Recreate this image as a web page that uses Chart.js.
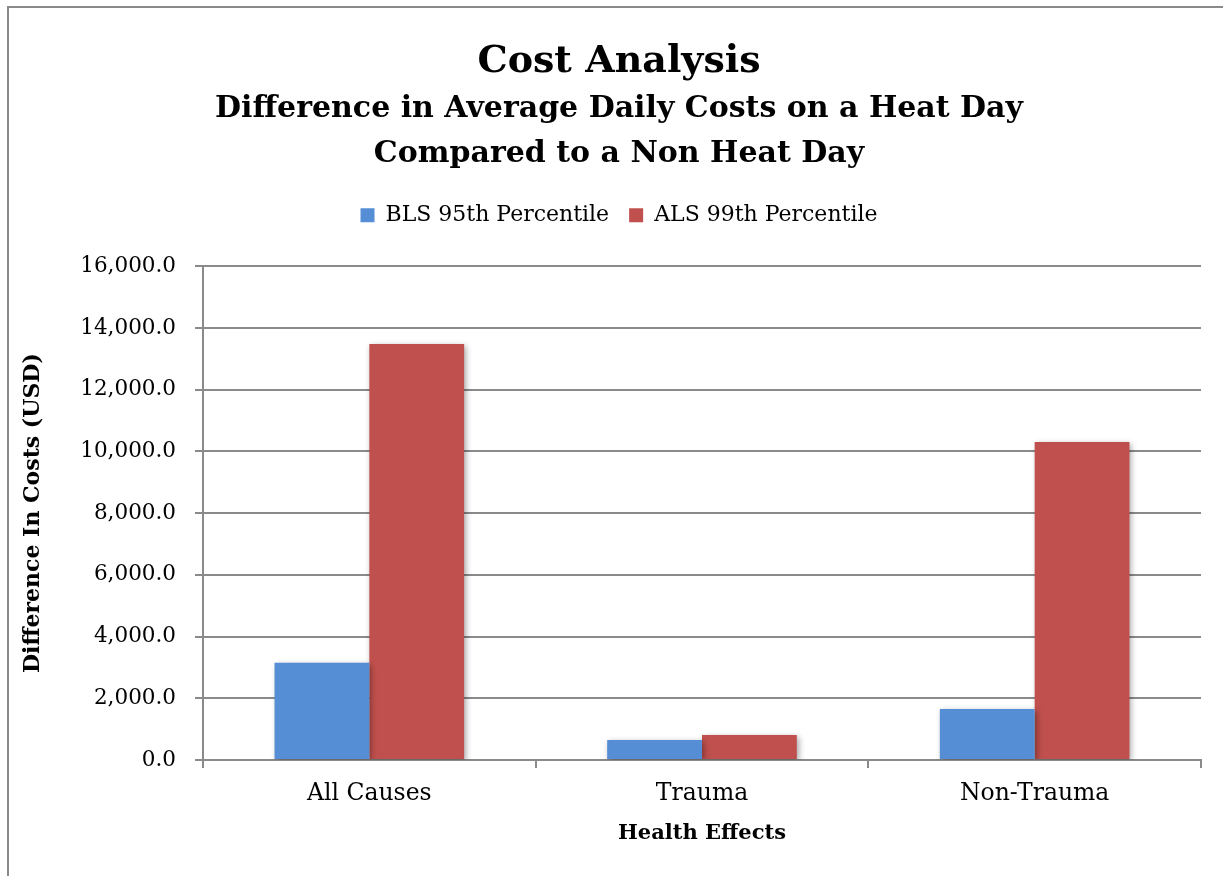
<!DOCTYPE html>
<html>
<head>
<meta charset="utf-8">
<script src="https://cdn.jsdelivr.net/npm/chart.js@4"></script>
<style>
  html, body { margin: 0; padding: 0; background: #fff; overflow: hidden; }
  #frame {
    position: absolute; left: 7px; top: 6px; width: 1400px; height: 1000px;
    border: 2px solid #8a8a8a; box-sizing: border-box;
  }
  #wrap { position: absolute; left: 0; top: 0; width: 1223px; height: 876px; }
</style>
</head>
<body>
<div id="frame"></div>
<div id="wrap"><canvas id="costChart" width="1223" height="876"></canvas></div>
<script>
// chart data
const categories = ['All Causes', 'Trauma', 'Non-Trauma'];
const blsValues = [3150, 650, 1650];
const alsValues = [13480, 810, 10300];
const seriesNames = ['BLS 95th Percentile', 'ALS 99th Percentile'];
const yTicks = [0, 2000, 4000, 6000, 8000, 10000, 12000, 14000, 16000];

const serif = "'DejaVu Serif', 'Liberation Serif', serif";

// Excel-like soft shadow under the bars
const barShadow = {
    id: 'barShadow',
    beforeDatasetsDraw(chart) {
        const ctx = chart.ctx;
        ctx.save();
        ctx.shadowColor = 'rgba(0,0,0,0.35)';
        ctx.shadowBlur = 6;
        ctx.shadowOffsetX = 2;
        ctx.shadowOffsetY = 2;
    },
    afterDatasetsDraw(chart) {
        chart.ctx.restore();
    }
};

// leave some room between the legend and the plot area
const legendGap = {
    id: 'legendGap',
    beforeInit(chart) {
        const origFit = chart.legend.fit;
        chart.legend.fit = function() {
            origFit.call(this);
            this.height += 30;
        };
    }
};

const ctx = document.getElementById('costChart').getContext('2d');
new Chart(ctx, {
    type: 'bar',
    data: {
        labels: categories,
        datasets: [
            { label: seriesNames[0], data: blsValues, backgroundColor: '#558ed5' },
            { label: seriesNames[1], data: alsValues, backgroundColor: '#c0504d' }
        ]
    },
    plugins: [barShadow, legendGap],
    options: {
        responsive: false,
        animation: false,
        datasets: {
            bar: { barPercentage: 1.0, categoryPercentage: 0.57 }
        },
        layout: { padding: { left: 37, right: 22, top: 0, bottom: 0 } },
        plugins: {
            title: {
                display: true,
                text: 'Cost Analysis',
                color: '#000',
                font: { family: serif, size: 38, weight: 'bold', lineHeight: 1.3 },
                padding: { top: 37, bottom: 0 }
            },
            subtitle: {
                display: true,
                text: ['Difference in Average Daily Costs on a Heat Day', 'Compared to a Non Heat Day'],
                color: '#000',
                font: { family: serif, size: 30, weight: 'bold', lineHeight: 1.48 },
                padding: { top: 1, bottom: 8 }
            },
            legend: {
                position: 'top',
                labels: {
                    color: '#000',
                    font: { family: serif, size: 22 },
                    boxWidth: 14,
                    boxHeight: 14,
                    padding: 20
                }
            },
            tooltip: { enabled: false }
        },
        scales: {
            x: {
                afterFit(scale) { scale.height = 116; },
                grid: { drawOnChartArea: false, color: '#8a8a8a', lineWidth: 2, tickLength: 8 },
                border: { color: '#8a8a8a', width: 2 },
                ticks: { color: '#000', font: { family: serif, size: 23.5 }, padding: 12 },
                title: {
                    display: true,
                    text: 'Health Effects',
                    color: '#000',
                    font: { family: serif, size: 21, weight: 'bold' },
                    padding: { top: 0, bottom: 30 }
                }
            },
            y: {
                min: 0,
                max: 16000,
                afterBuildTicks(scale) {
                    scale.ticks = yTicks.map(v => ({ value: v }));
                },
                afterFit(scale) { scale.width = 166; },
                grid: { color: '#8a8a8a', lineWidth: 2, tickLength: 8 },
                border: { color: '#8a8a8a', width: 2 },
                ticks: {
                    color: '#000',
                    font: { family: serif, size: 21.5 },
                    padding: 19,
                    callback: function(value) {
                        return value.toLocaleString('en-US', { minimumFractionDigits: 1, maximumFractionDigits: 1 });
                    }
                },
                title: {
                    display: true,
                    text: 'Difference In Costs (USD)',
                    color: '#000',
                    font: { family: serif, size: 22, weight: 'bold' },
                    padding: { top: -17, bottom: 0 }
                }
            }
        }
    }
});
</script>
</body>
</html>
